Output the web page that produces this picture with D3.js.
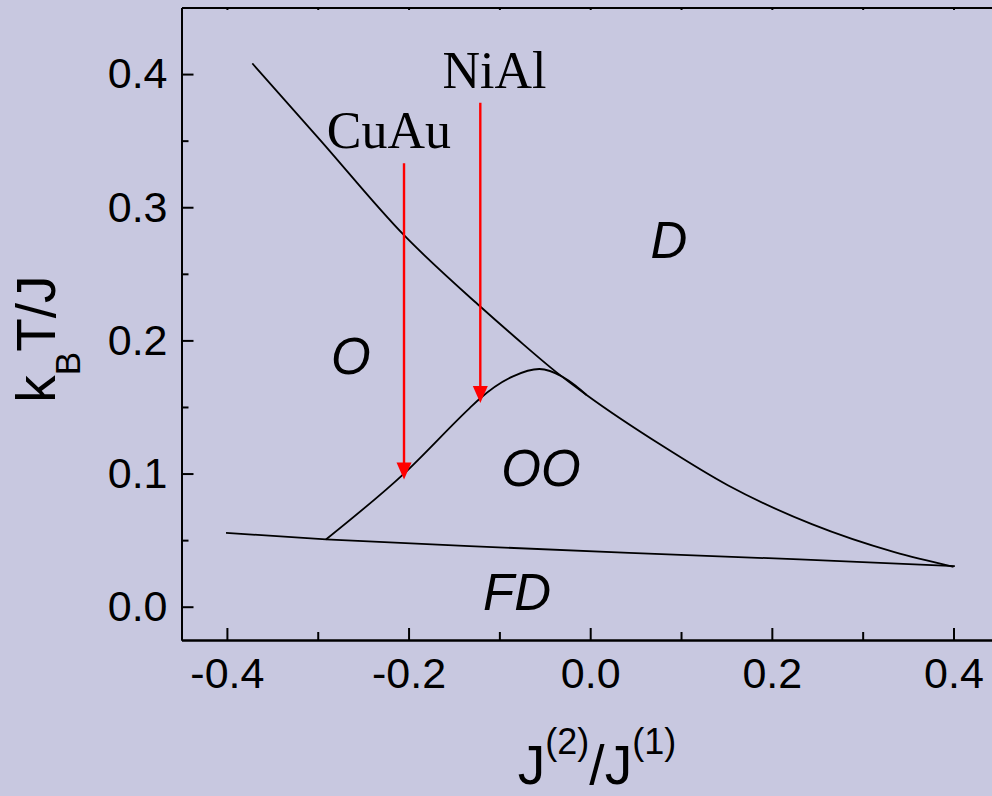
<!DOCTYPE html>
<html>
<head>
<meta charset="utf-8">
<script src="https://cdn.jsdelivr.net/npm/d3@7"></script>
<style>
  html, body { margin: 0; padding: 0; background: #C8C8E0; overflow: hidden; }
  svg { display: block; }
</style>
</head>
<body>
<svg id="chart" width="992" height="796"></svg>
<script>
// ---- Data ----
const upperX = [-0.372, -0.298, -0.205, -0.122, -0.082, -0.037, -0.004, 0.079, 0.152, 0.244, 0.335, 0.400];
const upperY = [ 0.408,  0.351,  0.279,  0.226,  0.202,  0.176,  0.159, 0.121, 0.091, 0.062, 0.041, 0.030];

const domeX = [-0.291, -0.205, -0.133, -0.122, -0.085, -0.056, -0.030, -0.016, -0.004];
const domeY = [ 0.0505, 0.100,  0.149,  0.156,  0.173,  0.1785, 0.1725, 0.166,  0.159];

const lowerX = [-0.401, -0.291, -0.133, 0.043, 0.2305, 0.4015];
const lowerY = [ 0.0555, 0.0505, 0.0455, 0.0405, 0.0355, 0.0305];

const arrowNames = ["CuAu", "NiAl"];
const arrowX     = [-0.205, -0.121];
const arrowTop   = [0.333, 0.3785];
const arrowTip   = [0.0955, 0.153];
const arrowLabelX = [-0.2216, -0.1053];
const arrowLabelY = [0.3445, 0.3895];

const regionNames = ["D", "O", "OO", "FD"];
const regionX     = [0.0868, -0.2636, -0.0542, -0.0806];
const regionY     = [0.2619, 0.1748, 0.0906, -0.0025];

const xMajor = [-0.4, -0.2, 0.0, 0.2, 0.4];
const xMinor = [-0.3, -0.1, 0.1, 0.3];
const yMajor = [0.0, 0.1, 0.2, 0.3, 0.4];
const yMinor = [0.05, 0.15, 0.25, 0.35];
const xTop   = [-0.4, -0.3, -0.2, -0.1, 0.0, 0.1, 0.2, 0.3, 0.4];

// ---- Layout ----
const svg = d3.select("#chart");
const L = 181.5, R = 998.9, T = 7.5, B = 640;
const x = d3.scaleLinear().domain([-0.45, 0.45]).range([L, R]);
const y = d3.scaleLinear().domain([-0.025, 0.45]).range([B, T]);

svg.append("rect").attr("width", 992).attr("height", 796).attr("fill", "#C8C8E0");

const sans = "'Liberation Sans', Arial, Helvetica, sans-serif";
const serif = "'Liberation Serif', 'Times New Roman', Times, serif";
const fmt = v => d3.format(".1f")(v).replace("\u2212", "-");

// Curves
const zip = (a, b) => a.map((v, i) => [v, b[i]]);
const mk = c => d3.line().x(d => x(d[0])).y(d => y(d[1])).curve(c);
const LW = 1.8;

svg.append("path").datum(zip(upperX, upperY))
  .attr("d", mk(d3.curveMonotoneX)).attr("fill", "none")
  .attr("stroke", "#000").attr("stroke-width", LW);
svg.append("path").datum(zip(domeX, domeY))
  .attr("d", mk(d3.curveMonotoneX)).attr("fill", "none")
  .attr("stroke", "#000").attr("stroke-width", LW);
svg.append("path").datum(zip(lowerX, lowerY))
  .attr("d", mk(d3.curveLinear)).attr("fill", "none")
  .attr("stroke", "#000").attr("stroke-width", LW);

// Arrows
const headW = 7.5, headH = 17;
arrowNames.forEach((name, i) => {
  const ax = x(arrowX[i]);
  svg.append("line")
    .attr("x1", ax).attr("x2", ax)
    .attr("y1", y(arrowTop[i])).attr("y2", y(arrowTip[i]) - headH + 2)
    .attr("stroke", "#FF0000").attr("stroke-width", 2.4);
  const ty = y(arrowTip[i]);
  svg.append("path")
    .attr("d", `M${ax - headW},${ty - headH} L${ax + headW},${ty - headH} L${ax},${ty} Z`)
    .attr("fill", "#FF0000");
  svg.append("text")
    .attr("x", x(arrowLabelX[i])).attr("y", y(arrowLabelY[i]))
    .attr("text-anchor", "middle")
    .attr("font-family", serif).attr("font-size", 52)
    .attr("fill", "#000").text(name);
});

// Region labels
regionNames.forEach((name, i) => {
  svg.append("text")
    .attr("x", x(regionX[i])).attr("y", y(regionY[i]))
    .attr("text-anchor", "middle")
    .attr("font-family", sans).attr("font-style", "italic").attr("font-size", 51)
    .attr("fill", "#000").text(name);
});

// Axes
const axStyle = g => {
  g.selectAll("path.domain").attr("stroke", "#000").attr("stroke-width", 2);
  g.selectAll(".tick line").attr("stroke", "#000").attr("stroke-width", 2);
  g.selectAll(".tick text").attr("fill", "#000").attr("font-family", sans).attr("font-size", 43);
};

// bottom
svg.append("g").attr("transform", `translate(0,${B})`)
  .call(d3.axisBottom(x).tickValues(xMinor).tickSize(-8).tickSizeOuter(0).tickFormat(""))
  .call(axStyle);
svg.append("g").attr("transform", `translate(0,${B})`)
  .call(d3.axisBottom(x).tickValues(xMajor).tickSize(-12).tickSizeOuter(0).tickPadding(17).tickFormat(fmt))
  .call(axStyle);
// top
svg.append("g").attr("transform", `translate(0,${T})`)
  .call(d3.axisTop(x).tickValues(xTop).tickSize(-2.5).tickSizeOuter(0).tickFormat(""))
  .call(axStyle);
// left
svg.append("g").attr("transform", `translate(${L},0)`)
  .call(d3.axisLeft(y).tickValues(yMinor).tickSize(-7).tickSizeOuter(0).tickFormat(""))
  .call(axStyle);
svg.append("g").attr("transform", `translate(${L},0)`)
  .call(d3.axisLeft(y).tickValues(yMajor).tickSize(-12).tickSizeOuter(0).tickPadding(14).tickFormat(fmt))
  .call(axStyle);
// right
svg.append("g").attr("transform", `translate(${R},0)`)
  .call(d3.axisRight(y).tickValues([]).tickSizeOuter(0))
  .call(axStyle);

// Axis titles
const yt = svg.append("text")
  .attr("transform", `translate(55,339) rotate(-90)`)
  .attr("text-anchor", "middle")
  .attr("font-family", sans).attr("font-size", 55).attr("fill", "#000");
yt.append("tspan").text("k");
yt.append("tspan").attr("font-size", 35).attr("dy", 25).text("B");
yt.append("tspan").attr("dy", -25).text("T/J");

const xt = svg.append("text")
  .attr("x", 597).attr("y", 784)
  .attr("text-anchor", "middle")
  .attr("font-family", sans).attr("font-size", 55).attr("fill", "#000");
xt.append("tspan").text("J");
xt.append("tspan").attr("font-size", 36).attr("dy", -30).text("(2)");
xt.append("tspan").attr("dy", 30).text("/J");
xt.append("tspan").attr("font-size", 36).attr("dy", -30).text("(1)");
</script>
</body>
</html>
